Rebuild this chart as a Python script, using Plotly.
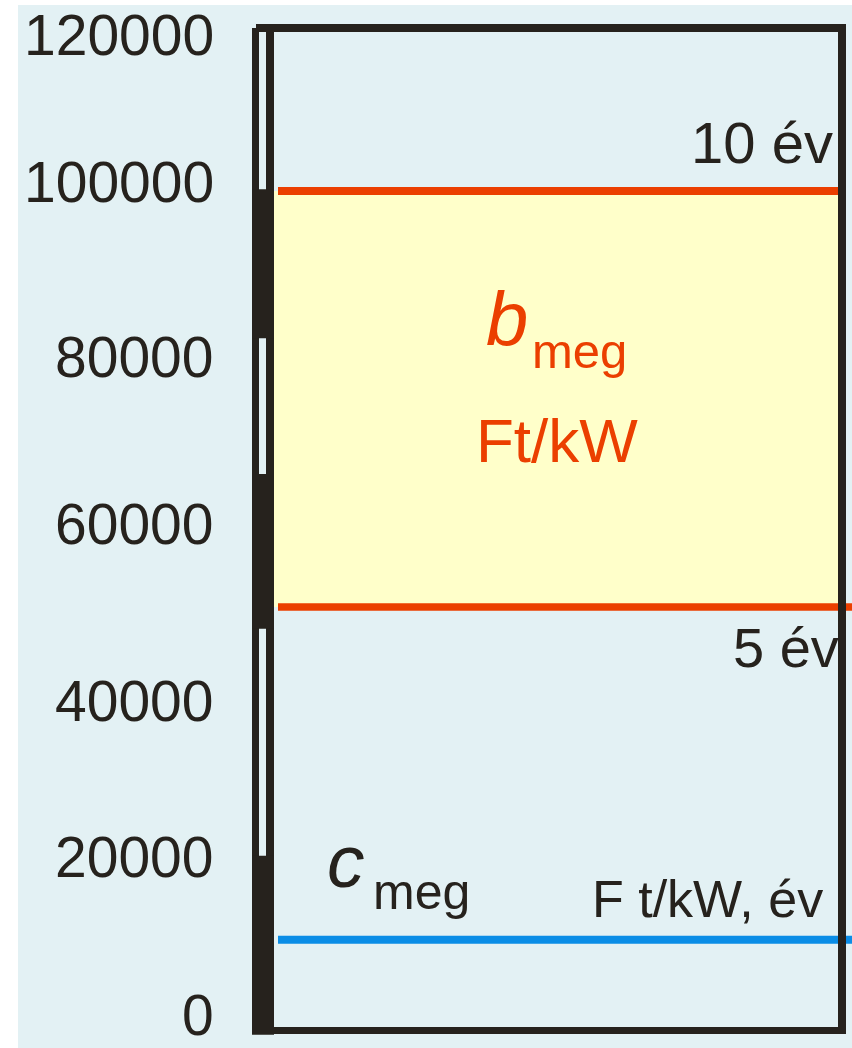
import plotly.graph_objects as go

# ---------------- data ----------------
y_tick_values = [0, 20000, 40000, 60000, 80000, 100000, 120000]
y_tick_labels = ["0", "20000", "40000", "60000", "80000", "100000", "120000"]
payback_labels = ["5 év", "10 év"]
b_meg_values = [50000, 100000]        # Ft/kW  (5 év, 10 év)
c_meg_value = 10000                   # Ft/kW, év
# filled (black) parts of the left scale bar, in axis units
scale_black_from = [-1400, 47400, 82300]
scale_black_to = [20100, 66000, 100200]

# ---------------- geometry / style ----------------
W, H = 852, 1048
L, R, T, B = 252, 0, 20, 10
PX_PER_UNIT = 0.00832      # vertical pixels per Ft/kW
ZERO_PX = 1023             # pixel row of value 0
Y_MIN = (ZERO_PX - (H - B)) / PX_PER_UNIT
Y_MAX = (ZERO_PX - T) / PX_PER_UNIT
# small downward nudges (px) of tick labels, as placed in the reference
TICK_LABEL_DOWN = {0: -8, 40000: 11, 100000: -9, 120000: 10}

DARK = "#26221D"
RED = "#EB3F00"
BLUE = "#0A8DE6"
BG = "#E3F1F4"
YELLOW = "#FFFFCA"
FONT = "Liberation Sans"


def fx(px):
    return (px - L) / (W - L - R)


def fy(py):
    return (H - B - py) / (H - T - B)


def vy(py):
    return (ZERO_PX - py) / PX_PER_UNIT


fig = go.Figure()

# horizontal value lines
fig.add_trace(go.Scatter(x=[fx(278), fx(842)], y=[b_meg_values[1]] * 2, mode="lines",
                         line=dict(color=RED, width=8), hoverinfo="skip", showlegend=False))
fig.add_trace(go.Scatter(x=[fx(278), fx(852)], y=[b_meg_values[0]] * 2, mode="lines",
                         line=dict(color=RED, width=7.5), hoverinfo="skip", showlegend=False))
fig.add_trace(go.Scatter(x=[fx(278), fx(852)], y=[c_meg_value] * 2, mode="lines",
                         line=dict(color=BLUE, width=8), hoverinfo="skip", showlegend=False))

shapes = []
# light-blue background
shapes.append(dict(type="rect", xref="paper", yref="paper", x0=fx(18), x1=fx(852),
                   y0=fy(1048), y1=fy(5), fillcolor=BG, line=dict(width=0), layer="below"))
# yellow band between the two b_meg values
shapes.append(dict(type="rect", xref="paper", yref="y", x0=fx(274), x1=fx(842),
                   y0=b_meg_values[0], y1=b_meg_values[1], fillcolor=YELLOW,
                   line=dict(width=0), layer="below"))
# left scale bar: two rails
shapes.append(dict(type="rect", xref="paper", yref="paper", x0=fx(252), x1=fx(259),
                   y0=fy(1034), y1=fy(28), fillcolor=DARK, line=dict(width=0), layer="above"))
shapes.append(dict(type="rect", xref="paper", yref="paper", x0=fx(266), x1=fx(274),
                   y0=fy(1034), y1=fy(24), fillcolor=DARK, line=dict(width=0), layer="above"))
# left scale bar: filled segments
for a, b in zip(scale_black_from, scale_black_to):
    shapes.append(dict(type="rect", xref="paper", yref="y", x0=fx(252), x1=fx(274),
                       y0=a, y1=b, fillcolor=DARK, line=dict(width=0), layer="above"))
# frame: top, right, bottom
shapes.append(dict(type="rect", xref="paper", yref="paper", x0=fx(256), x1=fx(846),
                   y0=fy(32), y1=fy(24), fillcolor=DARK, line=dict(width=0), layer="above"))
shapes.append(dict(type="rect", xref="paper", yref="paper", x0=fx(838), x1=fx(846),
                   y0=fy(1034), y1=fy(24), fillcolor=DARK, line=dict(width=0), layer="above"))
shapes.append(dict(type="rect", xref="paper", yref="paper", x0=fx(252), x1=fx(846),
                   y0=fy(1034), y1=fy(1027), fillcolor=DARK, line=dict(width=0), layer="above"))

annotations = [
    dict(text=payback_labels[1], x=fx(835), y=b_meg_values[1], yshift=49,
         xanchor="right", yanchor="middle", font=dict(size=58, color=DARK, family=FONT)),
    dict(text=payback_labels[0], x=fx(841), y=b_meg_values[0], yshift=-40,
         xanchor="right", yanchor="middle", font=dict(size=56, color=DARK, family=FONT)),
    dict(text="<i>b</i>", x=fx(484), y=vy(318), xanchor="left", yanchor="middle",
         font=dict(size=76, color=RED, family=FONT)),
    dict(text="meg", x=fx(530), y=vy(351), xanchor="left", yanchor="middle",
         font=dict(size=49, color=RED, family=FONT)),
    dict(text="Ft/kW", x=fx(557), y=vy(440), xanchor="center", yanchor="middle",
         font=dict(size=62, color=RED, family=FONT)),
    dict(text="<i>c</i>", x=fx(325), y=vy(861), xanchor="left", yanchor="middle",
         font=dict(size=75, color=DARK, family=FONT)),
    dict(text="meg", x=fx(371), y=vy(892), xanchor="left", yanchor="middle",
         font=dict(size=50, color=DARK, family=FONT)),
    dict(text="F t/kW, év", x=fx(825), y=vy(899), xanchor="right", yanchor="middle",
         font=dict(size=52, color=DARK, family=FONT)),
]
# y tick labels, placed on the y scale at the tick values
for v, lab in zip(y_tick_values, y_tick_labels):
    annotations.append(dict(text=lab, x=fx(216), y=v, yshift=-TICK_LABEL_DOWN.get(v, 0),
                            xanchor="right", yanchor="middle",
                            font=dict(size=57, color=DARK, family=FONT)))
for a in annotations:
    a.update(xref="paper", yref="y", showarrow=False)

fig.update_layout(
    width=W, height=H,
    margin=dict(l=L, r=R, t=T, b=B, pad=0, autoexpand=False),
    paper_bgcolor="white",
    plot_bgcolor="rgba(0,0,0,0)",
    showlegend=False,
    shapes=shapes,
    annotations=annotations,
    xaxis=dict(range=[0, 1], visible=False, fixedrange=True, automargin=False),
    yaxis=dict(range=[Y_MIN, Y_MAX], tickvals=y_tick_values, showticklabels=False,
               showgrid=False, zeroline=False, showline=False, ticks="",
               automargin=False, fixedrange=True),
)

fig.write_html("out.html", config={"displayModeBar": False},
               post_script="document.body.style.margin='0';document.body.style.padding='0';")
